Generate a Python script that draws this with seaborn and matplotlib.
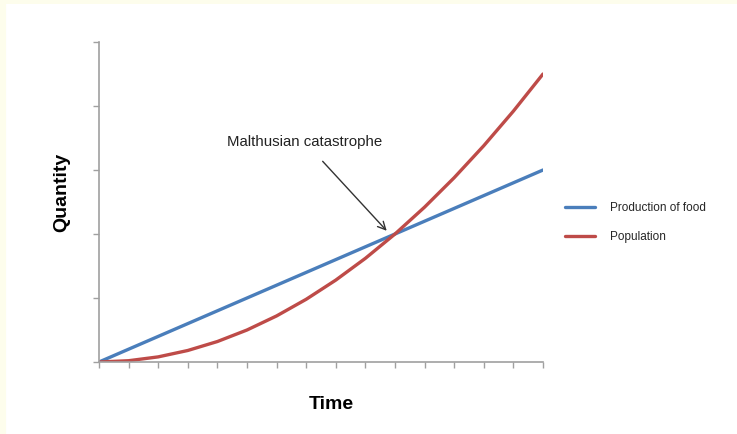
import matplotlib
matplotlib.use("Agg")
import matplotlib.pyplot as plt
import seaborn as sns
import pandas as pd
from matplotlib.lines import Line2D

# Data, x = time ticks 0..15, y in tick units 0..5
time = list(range(16))
food = [0.0, 0.2, 0.4, 0.6, 0.8, 1.0, 1.2, 1.4, 1.6, 1.8, 2.0, 2.2, 2.4, 2.6, 2.8, 3.0]
population = [0.0, 0.02, 0.08, 0.18, 0.32, 0.5, 0.72, 0.98, 1.28, 1.62, 2.0, 2.42, 2.88, 3.38, 3.92, 4.5]
series_names = ["Production of food", "Population"]
colors = ["#4a7ebb", "#be4b48"]

df = pd.DataFrame({
    "Time": time * 2,
    "Quantity": food + population,
    "Series": [series_names[0]] * len(time) + [series_names[1]] * len(time),
})

sns.set_theme(style="white")
plt.rcParams["font.family"] = ["Liberation Sans", "DejaVu Sans"]

fig = plt.figure(figsize=(7.37, 4.34), dpi=100)
fig.patch.set_facecolor("white")
ax = fig.add_axes([99 / 737, 1 - 362 / 434, 444 / 737, 320 / 434])

sns.lineplot(data=df, x="Time", y="Quantity", hue="Series",
             palette=dict(zip(series_names, colors)), linewidth=2.4, ax=ax)

ax.set_xlim(0, 15)
ax.set_ylim(0, 5)
ax.set_xticks(range(16))
ax.set_yticks(range(6))
ax.set_xticklabels([])
ax.set_yticklabels([])
ax.tick_params(axis="both", direction="out", length=4, width=1, color="#a0a0a0",
               bottom=True, left=True)
for side in ["top", "right"]:
    ax.spines[side].set_visible(False)
for side in ["left", "bottom"]:
    ax.spines[side].set_color("#a0a0a0")
    ax.spines[side].set_linewidth(1.2)

ax.set_xlabel("Time", fontsize=14, fontweight="bold", color="black")
ax.set_ylabel("Quantity", fontsize=14, fontweight="bold", color="black")
ax.xaxis.set_label_coords(0.523, -0.106)
ax.yaxis.set_label_coords(-0.065, 0.53)

ax.annotate("Malthusian catastrophe", xy=(9.72, 2.05), xytext=(6.95, 3.44),
            fontsize=10.8, color="#222222", ha="center", va="center",
            arrowprops=dict(arrowstyle="->", color="#333333", lw=1,
                            shrinkA=9, shrinkB=0, mutation_scale=14))

handles, labels = ax.get_legend_handles_labels()
ax.legend(handles, labels, loc="center left",
          bbox_to_anchor=(565 / 737, 1 - 222.5 / 434), bbox_transform=fig.transFigure,
          frameon=False, fontsize=8.5, handlelength=2.5, handletextpad=1.3,
          labelspacing=1.45, borderpad=0, borderaxespad=0)

# faint top/left border of the original image
fig.add_artist(Line2D([0, 1], [1, 1], transform=fig.transFigure, color="#fdfdec", lw=5))
fig.add_artist(Line2D([0, 0], [0, 1], transform=fig.transFigure, color="#fdfdec", lw=8))

fig.savefig("out.png", dpi=100)
